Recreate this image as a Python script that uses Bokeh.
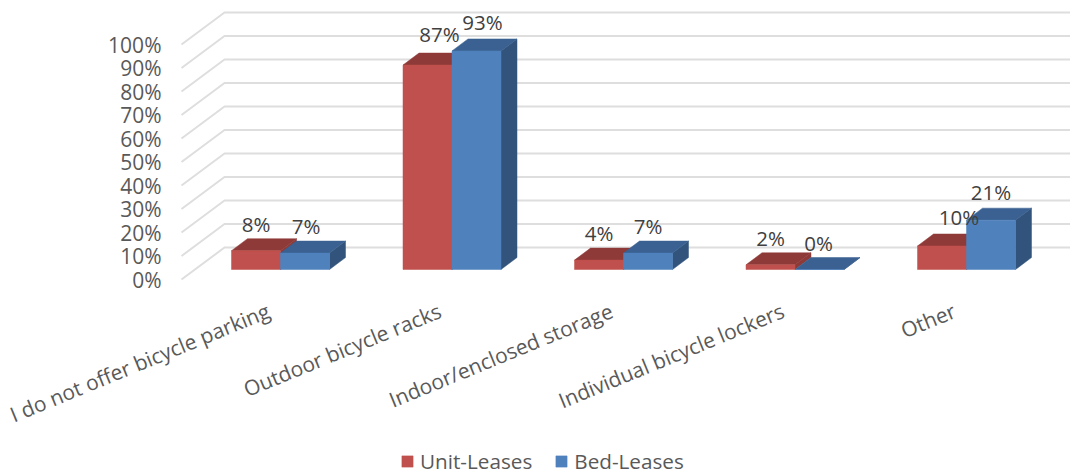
from bokeh.embed import file_html
from bokeh.resources import INLINE
from bokeh.plotting import figure
from bokeh.models import (Range1d, LinearAxis, FixedTicker, Legend, LegendItem,
                          ColumnDataSource, PrintfTickFormatter)
from bokeh.core.properties import value

categories = ["I do not offer bicycle parking", "Outdoor bicycle racks",
              "Indoor/enclosed storage", "Individual bicycle lockers", "Other"]
unit_leases = [8, 87, 4, 2, 10]
bed_leases = [7, 93, 7, 0, 21]
pct_ticks = list(range(0, 101, 10))

FONT = "Open Sans"
RED, RED_TOP = "#C0504D", "#8E3A38"
BLUE, BLUE_TOP, BLUE_SIDE = "#4F81BD", "#3A6191", "#32547C"
GRID = "#DEDEDE"

# pixel scale of the frame: one category step and one percent point
PX_X = 171.5
PX_Y = 2.35
FRAME_W, FRAME_H = 892, 285
FRAME_LEFT = 178
X0_PX, BASE_PX, WALL_FRONT_PX, WALL_BACK_PX = 280, 269, 279, 247
LABEL_SHIFT_PX = 12

BAR_W = 49 / PX_X
DX, DY = 16 / PX_X, 12 / PX_Y

x_lo = (FRAME_LEFT - X0_PX) / PX_X
x_hi = (FRAME_LEFT + FRAME_W - X0_PX) / PX_X

p = figure(width=1070, height=474, output_backend="svg", toolbar_location=None,
           frame_width=FRAME_W, frame_height=FRAME_H,
           min_border_left=FRAME_LEFT, min_border_right=0, min_border_top=0,
           min_border_bottom=474 - FRAME_H,
           x_range=Range1d(x_lo, x_hi),
           y_range=Range1d((BASE_PX - FRAME_H) / PX_Y, BASE_PX / PX_Y),
           x_axis_location=None, y_axis_location=None, outline_line_color=None)
p.grid.visible = False
p.extra_y_ranges["wall"] = Range1d((WALL_FRONT_PX - FRAME_H) / PX_Y, WALL_FRONT_PX / PX_Y)
# category labels end a little left of the bar pair they name
p.extra_x_ranges["labels"] = Range1d(x_lo + LABEL_SHIFT_PX / PX_X, x_hi + LABEL_SHIFT_PX / PX_X)

yaxis = LinearAxis(y_range_name="wall", ticker=FixedTicker(ticks=pct_ticks),
                   formatter=PrintfTickFormatter(format="%d%%"),
                   axis_line_color=None, major_tick_line_color=None, minor_tick_line_color=None,
                   major_label_standoff=11, major_label_text_font=FONT,
                   major_label_text_font_size="21px", major_label_text_color="#595959")
p.add_layout(yaxis, "left")

xaxis = LinearAxis(x_range_name="labels", ticker=FixedTicker(ticks=list(range(len(categories)))),
                   major_label_overrides={i: c for i, c in enumerate(categories)},
                   major_label_orientation=0.39, major_label_standoff=18,
                   major_label_text_font=FONT, major_label_text_font_size="21px",
                   major_label_text_color="#595959", axis_line_color=None,
                   major_tick_line_color=None, minor_tick_line_color=None)
p.add_layout(xaxis, "below")

# wall gridlines: a slanted run across the side wall, then straight across the back
front_x = (181 - X0_PX) / PX_X
back_x = (224 - X0_PX) / PX_X
front_off = (BASE_PX - WALL_FRONT_PX) / PX_Y
back_off = (BASE_PX - WALL_BACK_PX) / PX_Y
p.multi_line([[front_x, back_x, x_hi] for _ in pct_ticks],
             [[t + front_off, t + back_off, t + back_off] for t in pct_ticks],
             line_color=GRID, line_width=2)


def draw_series(vals, left_off, front, top, side):
    xs = [i + left_off for i in range(len(vals))]
    sx = [[x + BAR_W, x + BAR_W + DX, x + BAR_W + DX, x + BAR_W] for x in xs]
    sy = [[0, DY, v + DY, v] for v in vals]
    tx = [[x, x + DX, x + BAR_W + DX, x + BAR_W] for x in xs]
    ty = [[v, v + DY, v + DY, v] for v in vals]
    p.patches(sx, sy, fill_color=side, line_color=side, line_width=0.5)
    p.patches(tx, ty, fill_color=top, line_color=top, line_width=0.5)
    return p.quad(left=xs, right=[x + BAR_W for x in xs], bottom=0, top=vals,
                  fill_color=front, line_color=front, line_width=0.5)


red_r = draw_series(unit_leases, -BAR_W, RED, RED_TOP, RED_TOP)
blue_r = draw_series(bed_leases, 0, BLUE, BLUE_TOP, BLUE_SIDE)

# value labels sit over the top face; crowded ones get a small sideways nudge
unit_nudge = [0, 12, 0, 0, 17]
bed_nudge = [1, 6, 0, -1, 0]
unit_lift = [15, 19, 15, 15, 17]
bed_lift = [15, 17, 15, 15, 16]


def draw_labels(vals, centre_off, nudge, lift):
    src = ColumnDataSource(dict(
        x=[i + centre_off + n / PX_X for i, n in enumerate(nudge)],
        y=[v + DY + l / PX_Y for v, l in zip(vals, lift)],
        t=[f"{v}%" for v in vals]))
    p.text("x", "y", text="t", source=src, text_font=value(FONT), text_font_size="20.5px",
           text_color="#404040", text_align="center", text_baseline="middle")


draw_labels(unit_leases, -BAR_W / 2, unit_nudge, unit_lift)
draw_labels(bed_leases, BAR_W / 2, bed_nudge, bed_lift)

# the legend hangs off the right-hand panel, offset back under the chart
legend = Legend(items=[LegendItem(label="Unit-Leases", renderers=[red_r]),
                       LegendItem(label="Bed-Leases", renderers=[blue_r])],
                orientation="horizontal", location=(400 - 1070, -190), border_line_color=None,
                background_fill_alpha=0, glyph_width=14, glyph_height=14, label_standoff=6,
                spacing=22, margin=0, padding=0, label_text_font=FONT,
                label_text_font_size="20.7px", label_text_color="#595959")
p.add_layout(legend, "right")

open("out.html", "w").write(file_html(p, INLINE))
